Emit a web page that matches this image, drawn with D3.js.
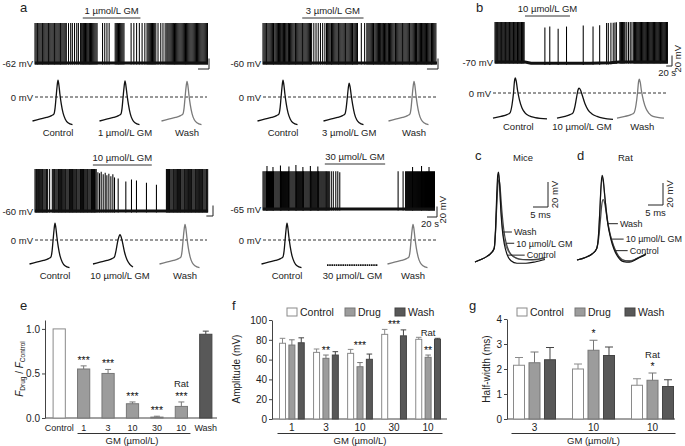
<!DOCTYPE html>
<html>
<head>
<meta charset="utf-8">
<script src="https://cdn.jsdelivr.net/npm/d3@7"></script>
<style>
body { margin: 0; background: #fff; }
svg text { font-family: "Liberation Sans", Arial, Helvetica, sans-serif; }
</style>
</head>
<body>
<svg id="fig" width="685" height="446"></svg>
<script>
// ---------------- data ----------------
// spike trains (s), drug windows (s), baselines [s, mV]
var a1Spikes = [0,2,4,5,7,9,11,13,14,16,18,20,22,24,25,27,29,31,33,35,36,38,40,42,44,46,47,49,51,53,55,57,
  61,65,68,72,76,79,83,85,87,88,90,92,94,96,98,99,101,103,105,107,109,111,113,123,127,131,135,
  146,148,150,152,154,156,158,160,162,175,180,185,190,195,200,204,206,208,210,212,214,216,218,220,
  224,229,233,237,240,242,244,246,248,250,252,254,256,258,260,262,264,266,268,270,272,274,276,278,
  280,282,284,286,288,290,292,294,296,298,300,302,304,306,308,310,312,314];
var a1Drug = [87, 192];

var a2Spikes = [0,2,4,6,7,9,11,13,15,17,19,20,22,24,26,28,30,32,33,35,37,39,41,43,45,46,48,50,52,54,56,58,
  59,61,63,65,67,69,71,72,74,76,78,80,82,84,86,88,92,96,100,104,108,112,115,117,119,121,123,124,126,
  128,130,132,134,136,137,139,141,143,145,147,149,150,152,154,156,158,160,162,163,165,167,169,171,
  178,184,188,190,192,194,196,198,200,201,203,205,207,209,211,213,214,216,218,220,222,224,226,227,
  229,231,233,235,237,239,240,242,244,246,248,250,252,253,255,257,259,261,263,265,266,268,270,272,
  274,276,278,279,281,283,285,287,289,291,292,294,296,298,300,302,304,305,307,309,311,313];
var a2Drug = [71, 182];

var bSpikes = [0,3,6,8,11,14,17,20,22,25,28,31,34,36,39,42,45,48,50,53,56,59,62,64,67,70,73,76,78,81,84,
  87,90,92,95,98,101,387,393,402,410,416,421,433,436,439,442,445,448,451,457,463,469,475,481,484,487,
  490,493,496,499,502,505,508,511,514,517,520,523,526,529,532,535,538,541,544,547,550,553,556,559,
  562,565,568,571,574,577,580,583,586,589,592,595,598];
var bSmall = [[173,68],[190,70],[219,66],[248,70],[306,72],[340,70],[363,72]];
var bDrug = [104, 260];
var bBase = [[0,-70],[104,-70],[125,-72.5],[330,-72.5],[400,-71.5],[430,-70],[600,-70]];

var a3Spikes = [0,3,5,8,11,13,16,19,22,24,27,30,33,35,38,44,52,55,58,60,63,66,69,71,74,77,80,82,85,88,
  91,93,96,99,102,104,107,110,113,115,118,121,124,126,129,132,135,137,140,143,146,148,151,154,157,
  159,162,165,168,170,173,176,179,181,184,395,398,401,404,406,409,412,415,417,420,423,426,428,431,
  434,437,439,442,445,448,450,453,456,459,461,464,467,470,472,475,478,481,483,486,489,492,494,497,
  500,503,505,508,511,514,516,519];
var a3Small = [[189,74],[194,72],[199,75],[205,70],[211,73],[216,68],[222,71],[228,66],[234,70],[239,64],
  [250,62],[273,56],[290,60],[305,58],[335,54],[365,50]];
var a3Drug = [174, 351];

var a4Spikes = [0,2,4,6,7,9,11,13,15,17,19,21,22,24,26,28,30,32,34,36,37,39,41,43,45,47,49,51,52,54,
  56,58,60,62,64,66,67,69,71,73,75,77,79,81,82,84,86,88,90,92,94,96,97,99,101,103,105,107,109,111,
  112,114,116,118,120,122,124,126,127,129,131,133,137,141,146,150,271,281,286,288,290,292,294,296,
  298,300,302,304,306,308,310,312,314,316,318,320,322,324,326,328,330,332,334,336,338,340,342,344];
var a4Tall = [[8,82],[20,80],[35,83],[52,81],[66,84],[80,80],[95,82],[110,81],[154,70],[300,80],[318,82],[333,80]];
var a4Drug = [124, 245];

// single action potentials [ms, mV]
var apCtrl = [[0,-40],[7,-37],[14,-34],[19,-31],[21.5,-28],[22.6,-18],[23.6,0],[24.6,18],[25.5,28],[26.4,20],[27.4,5],[28.8,-12],[30.6,-27],[32.8,-37],[35.5,-43],[40,-46]];
var apGM1 = [[0,-40],[7,-37],[14,-34],[19,-31],[21.5,-28],[22.6,-18],[23.6,0],[24.6,17],[25.5,27],[26.4,19],[27.5,4],[29,-13],[30.8,-28],[33,-38],[35.5,-43],[40,-46]];
var apGM3 = [[0,-40],[7,-37],[14,-34],[19,-31],[21.5,-28],[22.7,-18],[23.8,-1],[24.8,15],[25.7,23],[26.6,17],[27.7,3],[29.2,-13],[31,-28],[33.2,-38],[35.8,-43],[40,-46]];
var apGM10 = [[0,-40],[7,-37],[14,-34],[19,-31],[21.5,-28],[23,-18],[24.5,-4],[26,6],[27,9],[28,6],[29.5,-4],[31.5,-20],[34,-33],[37,-41],[40,-45]];
var apGM30 = [[0,-42],[51,-42]];
var apWash = [[0,-40],[7,-37],[14,-34],[19,-31],[21.5,-28],[22.6,-18],[23.6,0],[24.6,17],[25.5,26],[26.4,19],[27.4,4],[28.8,-13],[30.6,-28],[32.8,-38],[35.5,-43],[40,-46]];
var bCtrlAP = [[0,-42],[8,-39],[14,-36],[17,-33],[19,-20],[20.5,0],[21.5,20],[22.3,25],[23.2,20],[24.5,5],[26.5,-12],[29,-25],[32,-33],[36,-38],[42,-41],[54,-43]];
var bDrugAP = [[0,-42],[8,-39],[13,-36],[16,-33],[18,-22],[19.5,-8],[21,5],[22,8],[23.5,5],[25.5,-5],[28,-18],[31,-28],[35,-35],[40,-39],[46,-42],[56,-44]];
var bWashAP = [[0,-42],[8,-39],[14,-36],[17,-33],[19,-20],[20.5,0],[21.5,18],[22.3,23],[23.2,18],[24.5,3],[26.5,-13],[29,-26],[32,-34],[36,-39],[47,-42]];

// overlays c (mice) and d (rat) [ms, mV]
var miceControl = [[0,-62],[2,-60],[4,-57.5],[5.5,-54.5],[6.4,-51],[6.85,-35],[7.25,-8],[7.6,8],[7.85,10],[8.15,2],[8.6,-20],[9.1,-36],[9.8,-48],[10.7,-56],[12,-61],[14,-63],[17,-63],[20,-62],[23.3,-60]];
var miceDrug = [[0,-62],[2,-60],[4,-57.5],[5.5,-54.5],[6.4,-51],[6.9,-36],[7.35,-12],[7.75,2],[8.05,4],[8.4,-3],[9,-22],[9.7,-38],[10.4,-47],[11.5,-54],[13,-58],[16,-60],[19.5,-60],[23.3,-58.5]];
var miceWash = [[0,-62],[2,-60],[4,-57.5],[5.5,-54.5],[6.4,-51],[6.9,-35],[7.3,-10],[7.65,6],[7.9,8],[8.2,0],[8.7,-22],[9.3,-38],[10,-47],[11,-53],[12.5,-57],[15,-60],[19,-60.5],[23.3,-59]];
var ratControl = [[0,-62],[3,-59.5],[5,-56.5],[6.5,-52],[7.1,-42],[7.6,-18],[8,5],[8.35,15],[8.7,12],[9.3,-5],[10.2,-28],[11.2,-42],[12.3,-52],[13.6,-59],[15.5,-63.5],[17.5,-64],[20,-61],[23,-57]];
var ratDrug = [[0,-62],[3,-59.5],[5,-56.5],[6.5,-52],[7.2,-43],[7.8,-26],[8.3,-11],[8.7,-7],[9.2,-10],[10,-24],[11,-38],[12.2,-49],[13.5,-57],[15.2,-62],[17.5,-63],[20,-60.5],[23,-56]];
var ratWash = [[0,-62],[3,-59.5],[5,-56.5],[6.5,-52],[7.1,-42],[7.6,-18],[8,3],[8.35,13],[8.7,10],[9.4,-8],[10.4,-30],[11.5,-44],[12.7,-53],[14.2,-59.5],[16,-62.5],[18,-62.5],[20.5,-60],[23,-56.5]];

// e: firing frequency ratio
var eCats = ["Control","1","3","10","30","10","Wash"];
var eVals = [1.0, 0.55, 0.50, 0.16, 0.01, 0.13, 0.94];
var eErr  = [0, 0.035, 0.045, 0.02, 0.01, 0.05, 0.035];
var eStars = ["","***","***","***","***","***",""];
var eTicks = [0, 0.5, 1.0];

// f: amplitude (mV)
var fGroups = ["1","3","10","30","10"];
var fControl = [76.5, 67.3, 66.3, 85.5, 80.5];
var fControlErr = [5, 3.4, 4, 5, 2];
var fDrug = [74.7, 61.3, 52.8, null, 62.3];
var fDrugErr = [5.3, 3.3, 4.2, null, 2.3];
var fWash = [77, 64.6, 60.3, 84, 80.5];
var fWashErr = [5, 3.4, 5.3, 6, 1];
var fStars = ["", "**", "***", "***", "**"];
var fStarLevel = [null, 66, 71, 92, 66];
var fTicks = [0, 20, 40, 60, 80, 100];

// g: half-width (ms)
var gGroups = ["3","10","10"];
var gControl = [2.15, 2.0, 1.35];
var gControlErr = [0.31, 0.2, 0.26];
var gDrug = [2.25, 2.75, 1.55];
var gDrugErr = [0.43, 0.4, 0.29];
var gWash = [2.37, 2.54, 1.3];
var gWashErr = [0.49, 0.34, 0.27];
var gStars = ["", "*", "*"];
var gTicks = [0, 1, 2, 3, 4];

// ---------------- drawing ----------------
var svg = d3.select("#fig");
var INK = "#222";

function label(x, y, s, opt) {
  opt = opt || {};
  var t = svg.append("text").attr("x", x).attr("y", y)
    .attr("font-size", opt.size || 9.5)
    .attr("text-anchor", opt.anchor || "start")
    .attr("fill", opt.fill || INK)
    .text(s);
  if (opt.rotate) t.attr("transform", "rotate(-90," + x + "," + y + ")");
  return t;
}

function trace(o) {
  var x = d3.scaleLinear().domain([0, o.dur]).range([o.x0, o.x1]);
  var y = d3.scaleLinear().domain([o.rest, o.rest + 20]).range([o.y0, o.y0 - 10.5]);
  var knots = o.base || [[0, o.rest], [o.dur, o.rest]];
  var base = d3.scaleLinear().domain(knots.map(function(d){return d[0];})).range(knots.map(function(d){return d[1];}));
  var spk = o.spikes.map(function(t){return [t, o.amp];}).concat(o.extra || []);
  var g = svg.append("g");
  g.selectAll("line").data(spk).join("line")
    .attr("x1", function(d){return x(d[0]);}).attr("x2", function(d){return x(d[0]);})
    .attr("y1", function(d){return y(base(d[0]) - 3);})
    .attr("y2", function(d){return y(base(d[0]) + d[1]);})
    .attr("stroke", "#000").attr("stroke-width", 1.05);
  g.append("path").attr("d", d3.line().x(function(d){return x(d[0]);}).y(function(d){return y(d[1]);})(knots))
    .attr("fill", "none").attr("stroke", "#111").attr("stroke-width", o.bw || 2.8);
  // drug application bar
  svg.append("line").attr("x1", x(o.drug[0])).attr("x2", x(o.drug[1]))
    .attr("y1", o.barY).attr("y2", o.barY).attr("stroke", "#333").attr("stroke-width", 1);
  label((x(o.drug[0]) + x(o.drug[1])) / 2, o.barY - 4.5, o.drugLabel, {anchor: "middle"});
  label(o.x0 - 2, o.y0 + 3.5, o.rest + " mV", {anchor: "end"});
  // scale bar 20 s / 20 mV
  var cx = o.x1 + o.sb[0], cy = o.y0 + o.sb[1];
  var hl = x(20) - x(0), vl = y(o.rest) - y(o.rest + 20);
  svg.append("path").attr("d", "M" + (cx - hl) + "," + cy + "H" + cx + "V" + (cy - vl))
    .attr("fill", "none").attr("stroke", "#222").attr("stroke-width", 1);
  if (o.sbText) {
    label(cx - hl / 2 - 2, cy + 9.5, "20 s", {anchor: "middle"});
    label(cx + 9, cy - vl / 2 - 2, "20 mV", {anchor: "middle", rotate: true});
  }
}

function apRow(o) {
  svg.append("line").attr("x1", o.x0).attr("x2", o.x1).attr("y1", o.zero).attr("y2", o.zero)
    .attr("stroke", "#333").attr("stroke-width", 1).attr("stroke-dasharray", "3,2");
  label(o.x0 - 2, o.zero + 3.5, "0 mV", {anchor: "end"});
  o.items.forEach(function(it) {
    var x = d3.scaleLinear().domain([0, 1]).range([it.start, it.start + (o.kx || 1)]);
    var y = d3.scaleLinear().domain([0, 1]).range([o.zero, o.zero - o.ky]);
    var p = svg.append("path")
      .attr("d", d3.line().curve(d3.curveMonotoneX).x(function(d){return x(d[0]);}).y(function(d){return y(d[1]);})(it.pts))
      .attr("fill", "none").attr("stroke", it.color || "#111").attr("stroke-width", 1.3);
    if (it.flat) p.attr("stroke-dasharray", "1.6,0.6").attr("stroke-width", 1.8);
    var ext = d3.extent(it.pts, function(d){return d[1];});
    var lx;
    if (ext[0] === ext[1]) lx = x(d3.mean(d3.extent(it.pts, function(d){return d[0];})));
    else lx = x(it.pts.find(function(d){return d[1] === ext[1];})[0]) + (o.ldx || 0);
    label(lx, o.labelY, it.name, {anchor: "middle"});
  });
}

// panel letters
[["a",20,12],["b",476,12],["c",475,160],["d",577,160],["e",20,310],["f",232,310],["g",469,310]].forEach(function(d){
  label(d[1], d[2], d[0], {size: 13});
});

// --- a / b spike trains ---
trace({x0:35, x1:208, y0:63, rest:-62, dur:315, amp:76, spikes:a1Spikes, drug:a1Drug, barY:18, drugLabel:"1 µmol/L GM", sb:[1,6]});
trace({x0:263, x1:437, y0:63, rest:-60, dur:315, amp:76, spikes:a2Spikes, drug:a2Drug, barY:18, drugLabel:"3 µmol/L GM", sb:[1,6]});
trace({x0:495, x1:668, y0:62, rest:-70, dur:600, amp:76, spikes:bSpikes, extra:bSmall, base:bBase, bw:3, drug:bDrug, barY:16, drugLabel:"10 µmol/L GM", sb:[4,4], sbText:true});
trace({x0:35, x1:208, y0:211, rest:-60, dur:520, amp:80, spikes:a3Spikes, extra:a3Small, drug:a3Drug, barY:165, drugLabel:"10 µmol/L GM", sb:[5,5]});
trace({x0:263, x1:435, y0:209, rest:-65, dur:345, amp:72, spikes:a4Spikes, extra:a4Tall, drug:a4Drug, barY:164, drugLabel:"30 µmol/L GM", sb:[2,8], sbText:true});

// --- single APs ---
apRow({x0:35, x1:207, zero:97, ky:0.6, labelY:136, items:[
  {pts:apCtrl, start:32.5, name:"Control"},
  {pts:apGM1, start:99.5, name:"1 µmol/L GM"},
  {pts:apWash, start:161.5, name:"Wash", color:"#7a7a7a"}]});
apRow({x0:263, x1:437, zero:97, ky:0.6, labelY:136, items:[
  {pts:apCtrl, start:257.5, name:"Control"},
  {pts:apGM3, start:323.5, name:"3 µmol/L GM"},
  {pts:apWash, start:388.5, name:"Wash", color:"#7a7a7a"}]});
apRow({x0:493, x1:668, zero:93, ky:0.6, labelY:130, ldx:3, items:[
  {pts:bCtrlAP, start:493, name:"Control"},
  {pts:bDrugAP, start:557, name:"10 µmol/L GM"},
  {pts:bWashAP, start:617, name:"Wash", color:"#7a7a7a"}]});
apRow({x0:35, x1:207, zero:240, ky:0.6, labelY:279, items:[
  {pts:apCtrl, start:29.5, name:"Control"},
  {pts:apGM10, start:93, name:"10 µmol/L GM"},
  {pts:apWash, start:159.5, name:"Wash", color:"#7a7a7a"}]});
apRow({x0:263, x1:437, zero:240, ky:0.6, labelY:279, items:[
  {pts:apCtrl, start:261.5, name:"Control"},
  {pts:apGM30, start:327, name:"30 µmol/L GM", flat:true},
  {pts:apWash, start:387.5, name:"Wash", color:"#7a7a7a"}]});

// --- c / d overlays ---
function overlay(o) {
  var x = d3.scaleLinear().domain([0, 1]).range([o.x0, o.x0 + o.kx]);
  var y = d3.scaleLinear().domain([-62, -61]).range([o.yBase, o.yBase - o.ky]);
  var line = d3.line().curve(d3.curveMonotoneX).x(function(d){return x(d[0]);}).y(function(d){return y(d[1]);});
  o.curves.forEach(function(c) {
    svg.append("path").attr("d", line(c.pts)).attr("fill", "none")
      .attr("stroke", c.color).attr("stroke-width", 1.2);
  });
  o.labels.forEach(function(l) {
    var ax = x(l.t), ay = y(l.v);
    svg.append("line").attr("x1", ax).attr("x2", ax + l.dx - 2).attr("y1", ay).attr("y2", ay)
      .attr("stroke", "#222").attr("stroke-width", 1);
    label(ax + l.dx, ay + 3.3, l.name, {size: 9});
  });
  // scale bar 5 ms / 20 mV
  var hl = x(5) - x(0), vl = y(-62) - y(-42);
  svg.append("path").attr("d", "M" + (o.sb[0] - hl) + "," + o.sb[1] + "H" + o.sb[0] + "V" + (o.sb[1] - vl))
    .attr("fill", "none").attr("stroke", "#222").attr("stroke-width", 1);
  label(o.sb[0] - hl / 2, o.sb[1] + 11, "5 ms", {anchor: "middle"});
  label(o.sb[0] + 10, o.sb[1] - vl / 2, "20 mV", {anchor: "middle", rotate: true});
  label(o.titleX, 161, o.title);
}
overlay({x0:475, kx:3, yBase:262, ky:1.25, sb:[548,207], title:"Mice", titleX:513,
  curves:[{pts:miceWash, color:"#777"}, {pts:miceDrug, color:"#444"}, {pts:miceControl, color:"#111"}],
  labels:[{name:"Wash", t:9.3, v:-38, dx:11}, {name:"10 µmol/L GM", t:10.4, v:-47, dx:10}, {name:"Control", t:10.9, v:-56.5, dx:19}]});
overlay({x0:577, kx:3, yBase:260, ky:1.1, sb:[663,205], title:"Rat", titleX:618,
  curves:[{pts:ratWash, color:"#777"}, {pts:ratDrug, color:"#444"}, {pts:ratControl, color:"#111"}],
  labels:[{name:"Wash", t:10.3, v:-29, dx:12}, {name:"10 µmol/L GM", t:11.55, v:-43, dx:14}, {name:"Control", t:12.55, v:-53.5, dx:15}]});

// --- bar charts ---
var STY = {
  ctrl: {fill:"#ffffff", stroke:"#8a8a8a"},
  drug: {fill:"#9c9c9c", stroke:"#777"},
  wash: {fill:"#585858", stroke:"#444"}
};

function styleAxis(g, size) {
  g.select(".domain").attr("stroke", "#444");
  g.selectAll(".tick line").attr("stroke", "#444");
  g.selectAll(".tick text").attr("font-size", size || 9.5).attr("fill", INK)
    .attr("font-family", '"Liberation Sans", Arial, sans-serif');
}

function errBar(cx, y0, y1, half, color) {
  svg.append("line").attr("x1", cx).attr("x2", cx).attr("y1", y0).attr("y2", y1).attr("stroke", color);
  svg.append("line").attr("x1", cx - half).attr("x2", cx + half).attr("y1", y1).attr("y2", y1).attr("stroke", color);
}

// panel e
(function() {
  var kinds = ["ctrl","drug","drug","drug","drug","drug","wash"];
  var x = d3.scaleBand().domain(d3.range(eCats.length)).range([47, 218]).paddingInner(0.5).paddingOuter(0.25);
  var y = d3.scaleLinear().domain([0, 1.1]).range([418, 320]);
  svg.append("g").attr("transform", "translate(45,0)")
    .call(d3.axisLeft(y).tickValues(eTicks).tickFormat(d3.format(".1f")).tickSize(3).tickSizeOuter(0).tickPadding(2))
    .call(styleAxis, 10);
  svg.append("line").attr("x1", 45).attr("x2", 217).attr("y1", 418).attr("y2", 418).attr("stroke", "#444");
  eVals.forEach(function(v, i) {
    var s = STY[kinds[i]], cx = x(i) + x.bandwidth() / 2;
    svg.append("rect").attr("x", x(i)).attr("y", y(v)).attr("width", x.bandwidth()).attr("height", y(0) - y(v))
      .attr("fill", s.fill).attr("stroke", s.stroke).attr("stroke-width", 1);
    if (eErr[i]) errBar(cx, y(v), y(v + eErr[i]), 3, s.stroke);
    if (eStars[i]) label(cx, y(v + eErr[i]) - 2, eStars[i], {anchor: "middle", size: 10.5, fill: "#111"});
    label(cx, 431, eCats[i], {anchor: "middle", size: 9});
  });
  label(x(5) + x.bandwidth() / 2, y(eVals[5] + eErr[5]) - 14.5, "Rat", {anchor: "middle"});
  var u0 = x(1), u1 = x(5) + x.bandwidth() + 3;
  svg.append("line").attr("x1", u0).attr("x2", u1).attr("y1", 433.5).attr("y2", 433.5).attr("stroke", "#333");
  label((u0 + u1) / 2 - 2, 444, "GM (µmol/L)", {anchor: "middle"});
  var t = svg.append("text").attr("transform", "translate(23,369) rotate(-90)")
    .attr("text-anchor", "middle").attr("font-size", 10).attr("fill", INK);
  t.append("tspan").attr("font-style", "italic").text("F");
  t.append("tspan").attr("font-size", 6.5).attr("dy", 2).text("Drug");
  t.append("tspan").attr("dy", -2).text(" / ");
  t.append("tspan").attr("font-style", "italic").text("F");
  t.append("tspan").attr("font-size", 6.5).attr("dy", 2).text("Control");
})();

function grouped(o) {
  var x = d3.scaleBand().domain(d3.range(o.groups.length)).range(o.range).paddingInner(o.pi).paddingOuter(o.po);
  var bw = x.bandwidth();
  var xi = d3.scaleBand().domain(["ctrl","drug","wash"]).range([o.inset, bw - o.inset]).paddingInner(o.ipi);
  var y = d3.scaleLinear().domain(o.domain).range([419, o.top]);
  svg.append("g").attr("transform", "translate(" + o.axisX + ",0)")
    .call(d3.axisLeft(y).tickValues(o.ticks).tickFormat(d3.format("d")).tickSize(3).tickSizeOuter(0).tickPadding(2))
    .call(styleAxis, 10);
  svg.append("line").attr("x1", o.axisX).attr("x2", o.axisEnd).attr("y1", 419).attr("y2", 419).attr("stroke", "#444");
  o.series.forEach(function(s) {
    var st = STY[s.key];
    s.vals.forEach(function(v, i) {
      if (v == null) return;
      var bx = x(i) + xi(s.key), cx = bx + xi.bandwidth() / 2;
      svg.append("rect").attr("x", bx).attr("y", y(v)).attr("width", xi.bandwidth()).attr("height", y(0) - y(v))
        .attr("fill", st.fill).attr("stroke", st.stroke).attr("stroke-width", 1);
      errBar(cx, y(v), y(v + s.errs[i]), o.cap, st.stroke);
    });
  });
  o.groups.forEach(function(gname, i) {
    var cx = x(i) + xi("drug") + xi.bandwidth() / 2;
    label(cx, 431, gname, {anchor: "middle", size: 10});
    if (o.stars[i]) {
      var sy = o.starLevel ? y(o.starLevel[i]) : y(o.series[1].vals[i] + o.series[1].errs[i]) - 3;
      label(cx, sy, o.stars[i], {anchor: "middle", size: 10.5, fill: "#111"});
      if (i === o.groups.length - 1) label(cx, o.ratLevel ? y(o.ratLevel) : sy - 12.5, "Rat", {anchor: "middle"});
    }
  });
  var u0 = x(0) + xi("ctrl") - 2, u1 = x(o.groups.length - 1) + xi("wash") + xi.bandwidth() + 2;
  svg.append("line").attr("x1", u0).attr("x2", u1).attr("y1", 433.5).attr("y2", 433.5).attr("stroke", "#333");
  label((u0 + u1) / 2, 444, "GM (µmol/L)", {anchor: "middle"});
  label(o.ylabX, 369, o.ylab, {anchor: "middle", rotate: true, size: 10});
  // legend
  var names = {ctrl: "Control", drug: "Drug", wash: "Wash"};
  o.legend.forEach(function(lx, k) {
    var key = ["ctrl","drug","wash"][k], st = STY[key];
    svg.append("rect").attr("x", lx).attr("y", 308).attr("width", 10).attr("height", 8)
      .attr("fill", st.fill).attr("stroke", st.stroke);
    label(lx + 13, 316, names[key], {size: 10.5});
  });
}

grouped({groups: fGroups, range: [274, 446], pi: 0.15, po: 0.1, inset: 2.1, ipi: 0.36,
  domain: [0, 100], top: 320, ticks: fTicks, axisX: 272, axisEnd: 447, cap: 2.8,
  series: [{key: "ctrl", vals: fControl, errs: fControlErr}, {key: "drug", vals: fDrug, errs: fDrugErr}, {key: "wash", vals: fWash, errs: fWashErr}],
  stars: fStars, starLevel: fStarLevel, ratLevel: 84, ylab: "Amplitude (mV)", ylabX: 240, legend: [287, 345, 395]});

grouped({groups: gGroups, range: [505, 682], pi: 0.2, po: 0.1, inset: 2.6, ipi: 0.29,
  domain: [0, 4], top: 319, ticks: gTicks, axisX: 507, axisEnd: 675, cap: 4,
  series: [{key: "ctrl", vals: gControl, errs: gControlErr}, {key: "drug", vals: gDrug, errs: gDrugErr}, {key: "wash", vals: gWash, errs: gWashErr}],
  stars: gStars, ylab: "Half-width (ms)", ylabX: 490, legend: [517, 575, 625]});
</script>
</body>
</html>
